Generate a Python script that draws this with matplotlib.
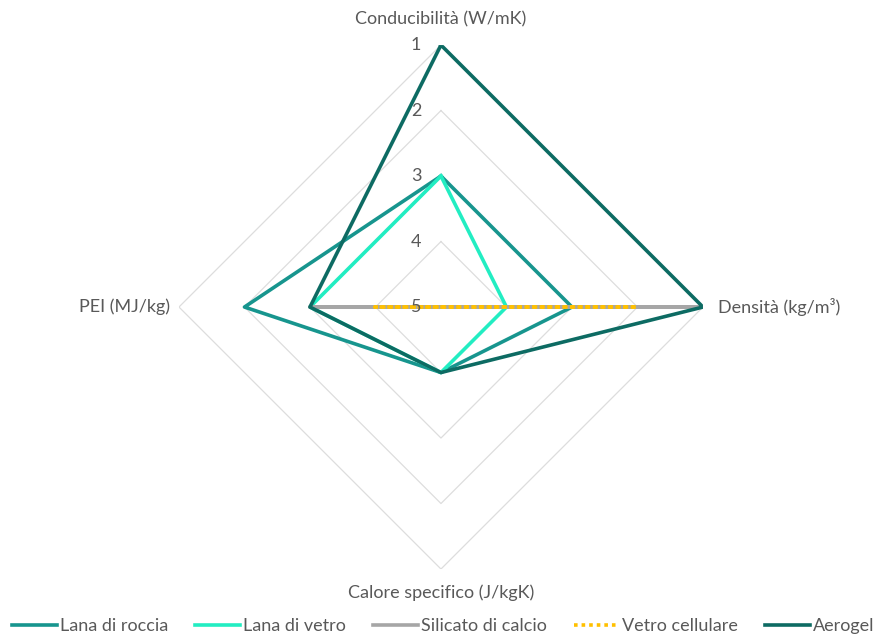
import numpy as np
import matplotlib.pyplot as plt

plt.rcParams['font.family'] = ['Lato', 'DejaVu Sans']

# assi del radar (scala invertita: 1 = migliore, all'esterno)
categorie = ['Conducibilità (W/mK)', 'Densità (kg/m³)', 'Calore specifico (J/kgK)', 'PEI (MJ/kg)']
materiali = ['Lana di roccia', 'Lana di vetro', 'Silicato di calcio', 'Vetro cellulare', 'Aerogel']

lana_roccia = [3, 3, 4, 2]
lana_vetro = [3, 4, 4, 3]
silicato_calcio = [5, 1, 5, 3]
vetro_cellulare = [5, 2, 5, 4]
aerogel = [1, 1, 4, 3]

valori = [lana_roccia, lana_vetro, silicato_calcio, vetro_cellulare, aerogel]
colori = ['#17958E', '#22EDC2', '#A6A6A6', '#FFC000', '#0D6B63']
stili = ['-', '-', '-', ':', '-']
livelli = [1, 2, 3, 4, 5]

testo = '#595959'
fs = 13

fig = plt.figure(figsize=(8.86, 6.39), dpi=100)
ax = fig.add_axes([0.2020, 0.1095, 0.5914, 0.820], projection='polar')
ax.set_theta_zero_location('N')
ax.set_theta_direction(-1)
ax.set_rlim(5, 1)

theta = np.deg2rad([0, 90, 180, 270])
theta_c = np.append(theta, theta[0])

# griglia a rombo
for lv in livelli[:-1]:
    ax.plot(theta_c, [lv] * 5, color='#DDDDDD', lw=0.9, zorder=1)

for nome, v, c, s in zip(materiali, valori, colori, stili):
    vv = v + [v[0]]
    if s == ':':
        ax.plot(theta_c, vv, color=c, lw=2.6, ls=(0, (1, 1.1)), label=nome, zorder=3)
    else:
        ax.plot(theta_c, vv, color=c, lw=2.6, label=nome, zorder=2)

ax.grid(False)
ax.spines['polar'].set_visible(False)
ax.set_xticks([])
ax.set_yticks([])

for lv in livelli:
    ax.annotate(str(lv), xy=(0, lv), xytext=(-25, 0), textcoords='offset pixels',
                ha='center', va='center', fontsize=fs, color=testo, zorder=4)

off = [(0, 26, 'center'), (15, 0, 'left'), (0, -24, 'center'), (-9, 0, 'right')]
for t, cat, (dx, dy, ha) in zip(theta, categorie, off):
    ax.annotate(cat, xy=(t, 1), xytext=(dx, dy), textcoords='offset pixels',
                ha=ha, va='center', fontsize=fs, color=testo)

fig.legend(loc='center', bbox_to_anchor=(0.5, 0.02), ncol=5, frameon=False,
           fontsize=fs, handlelength=2.5, handletextpad=0.15, columnspacing=1.5,
           labelcolor=testo)

fig.savefig('out.png', dpi=100, facecolor='white')
